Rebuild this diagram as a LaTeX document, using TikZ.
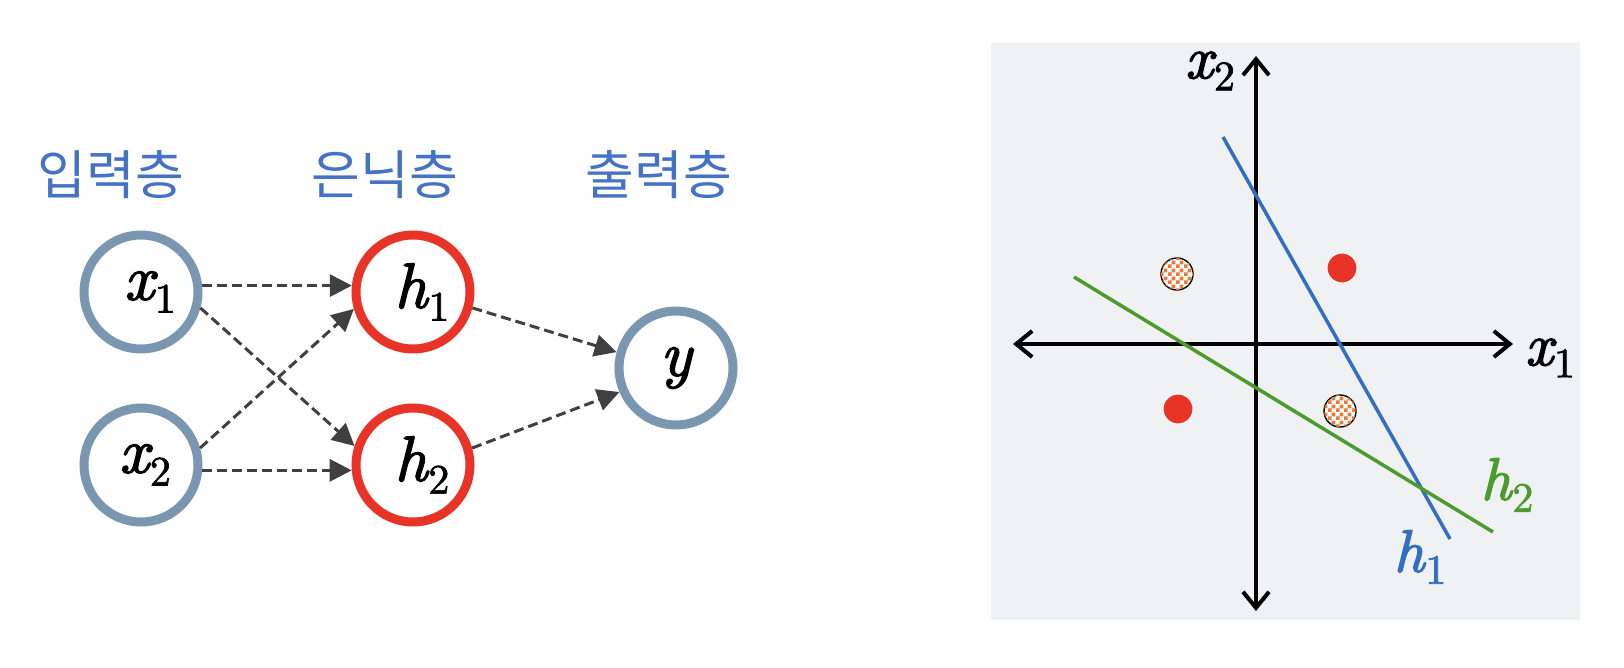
\documentclass[tikz,border=0pt]{standalone}
\usepackage{fontspec}
\newfontfamily\kr{Noto Sans CJK KR}
\newfontfamily\mvit{lmroman10-italic.otf}[FakeBold=2.2]
\newfontfamily\mvup{lmroman10-regular.otf}[FakeBold=1.6]
\usetikzlibrary{arrows.meta,patterns}
\definecolor{nodegray}{RGB}{122,150,176}
\definecolor{nodered}{RGB}{232,52,38}
\definecolor{labelblue}{RGB}{68,114,196}
\definecolor{arrowgray}{RGB}{64,64,64}
\definecolor{bggray}{RGB}{240,241,243}
\definecolor{lineblue}{RGB}{50,110,195}
\definecolor{linegreen}{RGB}{75,155,45}
\definecolor{dotred}{RGB}{232,52,38}
\definecolor{checkorange}{RGB}{226,125,60}
\pgfdeclarepatternformonly{mycheck}{\pgfpointorigin}{\pgfqpoint{8pt}{8pt}}{\pgfqpoint{8pt}{8pt}}{%
  \pgfpathrectangle{\pgfpointorigin}{\pgfqpoint{4.05pt}{4.05pt}}%
  \pgfpathrectangle{\pgfqpoint{4pt}{4pt}}{\pgfqpoint{4.05pt}{4.05pt}}%
  \pgfusepath{fill}}
% italic variable with a subscript, at any size
\newcommand\mv[2]{{\mvit #1}\kern1pt\raisebox{-0.2em}{\mvup\fontsize{42}{44}\selectfont #2}}
\tikzset{
  neuron/.style={circle, minimum size=114pt, inner sep=0pt, line width=9pt, fill=white,
    font=\fontsize{64}{66}\selectfont},
  inneuron/.style={neuron, draw=nodegray},
  hidneuron/.style={neuron, draw=nodered},
  layerlabel/.style={anchor=base, text=labelblue, font=\kr\fontsize{53}{56}\selectfont, inner sep=0pt},
  conn/.style={draw=arrowgray, line width=3pt, dash pattern=on 10pt off 5pt,
    -{Triangle[length=22pt,width=22pt]}},
  axis/.style={draw=black, line width=4pt, {Straight Barb[length=16pt,width=26pt]}-{Straight Barb[length=16pt,width=26pt]}},
  sepline/.style={line width=3.5pt},
  mathlabel/.style={inner sep=0pt, font=\fontsize{60}{62}\selectfont},
  reddot/.style={circle, minimum size=30pt, inner sep=0pt, fill=dotred, draw=white, line width=1pt},
  checkdot/.style={circle, minimum size=32pt, inner sep=0pt, draw=black, line width=1.4pt, fill=white,
    postaction={pattern=mycheck, pattern color=checkorange}}
}
\begin{document}
\begin{tikzpicture}[x=1pt,y=-1pt]
\useasboundingbox (0,0) rectangle (1624,668);
% ---------- left: network ----------
\node[layerlabel] (lin) at (111,195) {입력층};
\node[layerlabel] (lhid) at (385,195) {은닉층};
\node[layerlabel] (lout) at (659,195) {출력층};

\node[inneuron] (x1) at (141,292) {\hspace*{18pt}\mv{x}{1}};
\node[inneuron] (x2) at (141,465) {\hspace*{8pt}\mv{x}{2}};
\node[hidneuron] (h1) at (413,292) {\hspace*{18pt}\mv{h}{1}};
\node[hidneuron] (h2) at (413,465) {\hspace*{18pt}\mv{h}{2}};
\node[inneuron] (y) at (676,368) {{\mvit y}};

\draw[conn] (x1.6) -- (h1.174);
\draw[conn] (x1.-15) -- (h2.162);
\draw[conn] (x2.16) -- (h1.196);
\draw[conn] (x2.-5) -- (h2.185);
\draw[conn] (h1.-15) -- (y.165);
\draw[conn] (h2.16) -- (y.203);

% ---------- right: plane ----------
\fill[bggray] (991,43) rectangle (1580,620);
\coordinate (axl) at (1013,344);
\coordinate (axr) at (1513,344);
\coordinate (axt) at (1256,56);
\coordinate (axb) at (1256,611);
\draw[axis] (axl) -- (axr);
\draw[axis] (axb) -- (axt);

\coordinate (b1) at (1223,137);
\coordinate (b2) at (1450,539);
\coordinate (g1) at (1074,277);
\coordinate (g2) at (1493,532);
\draw[sepline, draw=lineblue] (b1) -- (b2);
\draw[sepline, draw=linegreen] (g1) -- (g2);

\node[checkdot] (c1) at (1177,274) {};
\node[checkdot] (c2) at (1340,411) {};
\node[reddot] (r1) at (1342,268) {};
\node[reddot] (r2) at (1178,409) {};

\node[mathlabel] (lx2) at (1210,71) {\mv{x}{2}};
\node[mathlabel] (lx1) at (1550,358) {\mv{x}{1}};
\node[mathlabel, text=linegreen] (lh2) at (1507,485) {\mv{h}{2}};
\node[mathlabel, text=lineblue] (lh1) at (1420,557) {\mv{h}{1}};
\end{tikzpicture}
\end{document}
